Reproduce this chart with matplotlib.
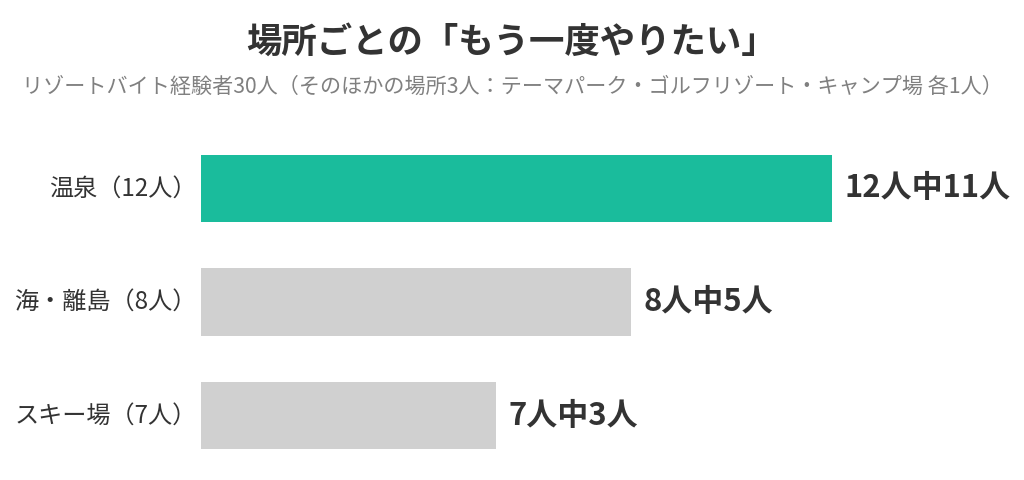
import matplotlib
matplotlib.use('Agg')
import matplotlib.pyplot as plt

plt.rcParams['font.family'] = ['Noto Sans CJK JP', 'DejaVu Sans']

categories = ['温泉（12人）', '海・離島（8人）', 'スキー場（7人）']
totals = [12, 8, 7]
again = [11, 5, 3]
bar_colors = ['#1abc9c', '#d0d0d0', '#d0d0d0']

title = '場所ごとの「もう一度やりたい」'
subtitle = 'リゾートバイト経験者30人（そのほかの場所3人：テーマパーク・ゴルフリゾート・キャンプ場 各1人）'

W, H = 1024, 480
fig = plt.figure(figsize=(W / 100, H / 100), dpi=100)
fig.patch.set_facecolor('white')

# axes placed in pixel terms: x 0..1 -> 201..889 px, rows centred at 188, 302, 415
left, right = 201, 889
top, bottom = 131.5, 472.5
ax = fig.add_axes([left / W, 1 - bottom / H, (right - left) / W, (bottom - top) / H])

ratios = [a / t for a, t in zip(again, totals)]
ypos = list(range(len(categories)))
ax.barh(ypos, ratios, height=0.59, color=bar_colors)
ax.set_xlim(0, 1)
ax.set_ylim(len(categories) - 0.5, -0.5)
ax.axis('off')

for y, r, a, t in zip(ypos, ratios, again, totals):
    ax.annotate(f'{t}人中{a}人', xy=(r, y), xytext=(9, 0), textcoords='offset points',
                ha='left', va='center', fontsize=22.3, fontweight='bold', color='#333333')
    ax.annotate(categories[y], xy=(0, y), xytext=(-3, 0), textcoords='offset points',
                ha='right', va='center', fontsize=17.4, color='#333333')

fig.text(0.5, 1 - 42 / H, title, ha='center', va='center', fontsize=25.5,
         fontweight='bold', color='#333333')
fig.text(0.5, 1 - 87 / H, subtitle, ha='center', va='center', fontsize=15.2,
         color='#808080')

fig.savefig('out.png', dpi=100, facecolor='white')
